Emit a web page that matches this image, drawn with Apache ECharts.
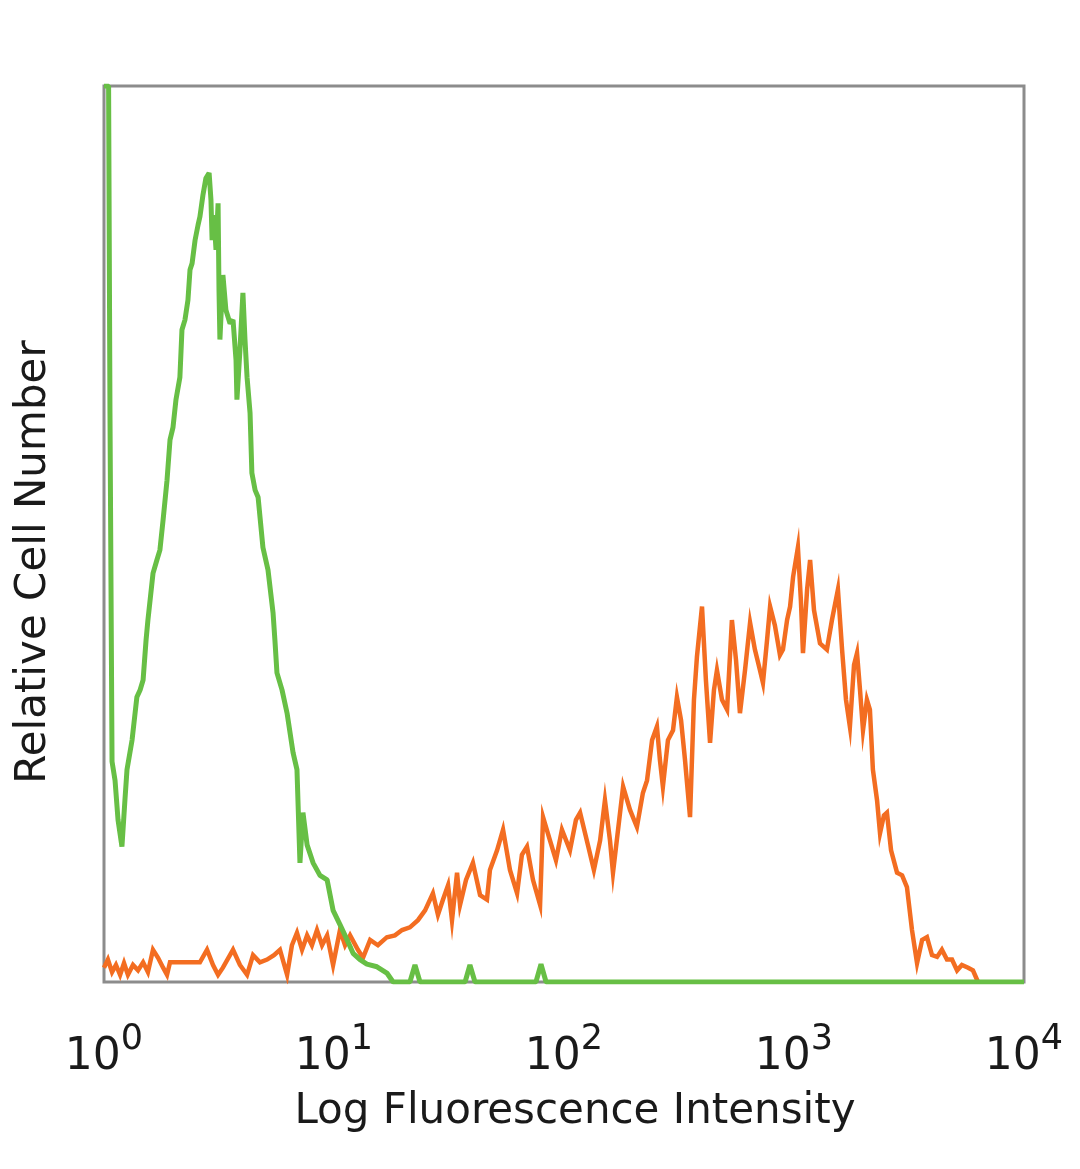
<!DOCTYPE html>
<html>
<head>
<meta charset="utf-8">
<script src="https://cdn.jsdelivr.net/npm/echarts@6/dist/echarts.min.js"></script>
<style>
html,body{margin:0;padding:0;background:#fff;}
#chart{width:1080px;height:1169px;}
</style>
</head>
<body>
<div id="chart"></div>
<script>
// Fluorescence positions in log10 decades and relative cell numbers (percent of full scale)
const greenLog = [0.000,0.020,0.026,0.035,0.048,0.061,0.078,0.091,0.100,0.122,0.143,0.157,0.170,0.183,0.191,0.213,0.230,0.243,0.257,0.274,0.287,0.300,0.313,0.330,0.339,0.352,0.365,0.374,0.383,0.396,0.409,0.417,0.430,0.443,0.457,0.465,0.470,0.478,0.487,0.496,0.500,0.504,0.517,0.530,0.548,0.561,0.574,0.578,0.591,0.604,0.613,0.622,0.635,0.643,0.657,0.670,0.691,0.713,0.735,0.743,0.752,0.774,0.796,0.822,0.839,0.852,0.865,0.883,0.909,0.939,0.970,0.996,1.026,1.057,1.083,1.113,1.143,1.187,1.230,1.257,1.330,1.352,1.374,1.570,1.591,1.613,1.878,1.900,1.922,4.000];
const greenCount = [100,100,63.5,24.6,22.5,18.1,15.1,20.3,23.7,27.0,31.8,32.6,33.7,38.2,40.4,45.6,47.1,48.2,51.6,56.0,60.5,61.9,65.0,67.5,72.8,73.9,76.1,79.5,80.2,82.8,84.5,85.4,87.8,89.7,90.3,87.3,82.8,85.6,81.7,86.9,77.2,71.7,78.9,75.0,73.5,73.9,69.4,65.0,70.5,76.9,71.7,67.5,63.5,56.8,54.9,54.1,48.5,46.0,41.2,38.2,34.5,32.6,30.0,25.6,23.7,13.3,18.9,15.3,13.3,11.9,11.4,8.0,6.4,4.7,3.2,2.5,2.0,1.7,1.0,0,0,1.9,0,0,1.9,0,0,2.0,0,0];

const orangeLog = [0.000,0.017,0.035,0.052,0.070,0.087,0.104,0.126,0.148,0.170,0.191,0.213,0.235,0.257,0.274,0.287,0.352,0.417,0.448,0.474,0.496,0.517,0.561,0.591,0.622,0.648,0.678,0.709,0.739,0.765,0.796,0.817,0.839,0.861,0.883,0.904,0.926,0.948,0.970,0.996,1.026,1.048,1.070,1.104,1.126,1.157,1.191,1.230,1.265,1.296,1.330,1.365,1.396,1.430,1.452,1.474,1.496,1.513,1.535,1.548,1.574,1.604,1.635,1.665,1.678,1.709,1.735,1.765,1.796,1.817,1.839,1.865,1.896,1.909,1.939,1.965,1.991,2.026,2.052,2.070,2.104,2.130,2.157,2.178,2.200,2.213,2.235,2.257,2.287,2.317,2.343,2.361,2.383,2.404,2.417,2.430,2.452,2.474,2.491,2.509,2.526,2.548,2.565,2.578,2.600,2.617,2.635,2.652,2.665,2.687,2.709,2.730,2.748,2.765,2.787,2.809,2.830,2.852,2.865,2.883,2.896,2.917,2.939,2.952,2.970,2.983,2.996,3.017,3.030,3.039,3.057,3.070,3.087,3.113,3.143,3.165,3.191,3.209,3.226,3.243,3.261,3.274,3.287,3.300,3.317,3.330,3.343,3.361,3.374,3.391,3.404,3.422,3.448,3.470,3.491,3.513,3.535,3.557,3.578,3.600,3.622,3.643,3.665,3.687,3.709,3.730,3.757,3.778,3.800];
const orangeCount = [1.6,2.5,1.1,1.9,0.8,2.1,0.8,1.9,1.3,2.2,1.1,3.6,2.7,1.6,0.8,2.2,2.2,2.2,3.6,1.9,0.8,1.6,3.6,1.9,0.8,3.0,2.2,2.5,3.0,3.6,0.8,4.1,5.5,3.6,5.2,4.1,5.8,4.1,5.2,1.9,5.8,4.1,5.2,3.6,2.7,4.7,4.1,5.0,5.2,5.8,6.1,6.9,8.0,9.9,7.5,9.2,10.8,6.9,12.2,8.6,11.4,13.3,9.7,9.2,12.5,14.7,17.0,12.5,9.9,14.2,15.1,11.4,8.6,18.4,15.8,13.6,17.0,14.7,18.1,18.9,15.3,12.5,15.8,20.3,15.8,12.2,17.0,21.8,19.2,17.3,21.1,22.5,27.0,28.5,24.8,21.8,27.0,28.1,31.8,29.2,24.8,18.4,31.5,36.3,41.9,33.7,26.7,32.6,34.8,31.5,30.4,40.4,35.9,30.0,34.8,40.1,37.1,34.8,33.4,38.2,41.9,39.8,36.5,37.1,40.4,41.9,45.2,48.5,42.6,36.7,43.8,47.1,41.5,37.8,37.1,40.4,43.8,37.1,31.5,28.5,35.4,36.7,32.6,28.1,31.5,30.4,23.7,20.3,16.6,18.6,18.9,14.7,12.2,11.9,10.6,5.8,2.1,4.7,5.0,3.0,2.8,3.6,2.5,2.5,1.3,1.9,1.6,1.3,0];

const xTickExponents = [0,1,2,3,4];
const xTitle = 'Log Fluorescence Intensity';
const yTitle = 'Relative Cell Number';

const toPairs = (logs, counts) => logs.map((d, i) => [Math.pow(10, d), counts[i]]);

const chart = echarts.init(document.getElementById('chart'), null, {renderer: 'canvas'});
const FONT = 'DejaVu Sans';
chart.setOption({
  backgroundColor: '#ffffff',
  animation: false,
  grid: {left: 104, right: 56, top: 86, bottom: 187, show: true, borderColor: '#8c8c8c', borderWidth: 3, backgroundColor: 'transparent'},
  xAxis: {
    type: 'log', logBase: 10, min: 1, max: 10000,
    axisLine: {show: false}, axisTick: {show: false}, splitLine: {show: false}, minorTick: {show: false},
    axisLabel: {
      margin: 40,
      color: '#1a1a1a',
      fontFamily: FONT,
      formatter: v => {
        const e = Math.round(Math.log10(v));
        return xTickExponents.indexOf(e) >= 0 ? '{b|10}{s|' + e + '}' : '';
      },
      rich: {
        b: {fontSize: 44, fontFamily: FONT, color: '#1a1a1a', letterSpacing: -3},
        s: {fontSize: 35, fontFamily: FONT, color: '#1a1a1a', padding: [0, 0, 36, 0]}
      }
    }
  },
  yAxis: {
    type: 'value', min: 0, max: 100,
    axisLine: {show: false}, axisTick: {show: false}, splitLine: {show: false}, axisLabel: {show: false}
  },
  graphic: [
    {type: 'text', x: 575, y: 1112, style: {text: xTitle, font: '42px "DejaVu Sans"', fill: '#1a1a1a', align: 'center', verticalAlign: 'middle'}},
    {type: 'text', x: 34, y: 562, rotation: Math.PI / 2, style: {text: yTitle, font: '42px "DejaVu Sans"', fill: '#1a1a1a', align: 'center', verticalAlign: 'middle'}}
  ],
  series: [
    {
      name: 'Stained', type: 'line', showSymbol: false, symbol: 'none', clip: true, z: 2,
      lineStyle: {color: '#f36d21', width: 4.5, join: 'miter'},
      data: toPairs(orangeLog, orangeCount)
    },
    {
      name: 'Control', type: 'line', showSymbol: false, symbol: 'none', clip: true, z: 3,
      lineStyle: {color: '#67bf45', width: 5},
      data: toPairs(greenLog, greenCount)
    }
  ]
});
</script>
</body>
</html>
